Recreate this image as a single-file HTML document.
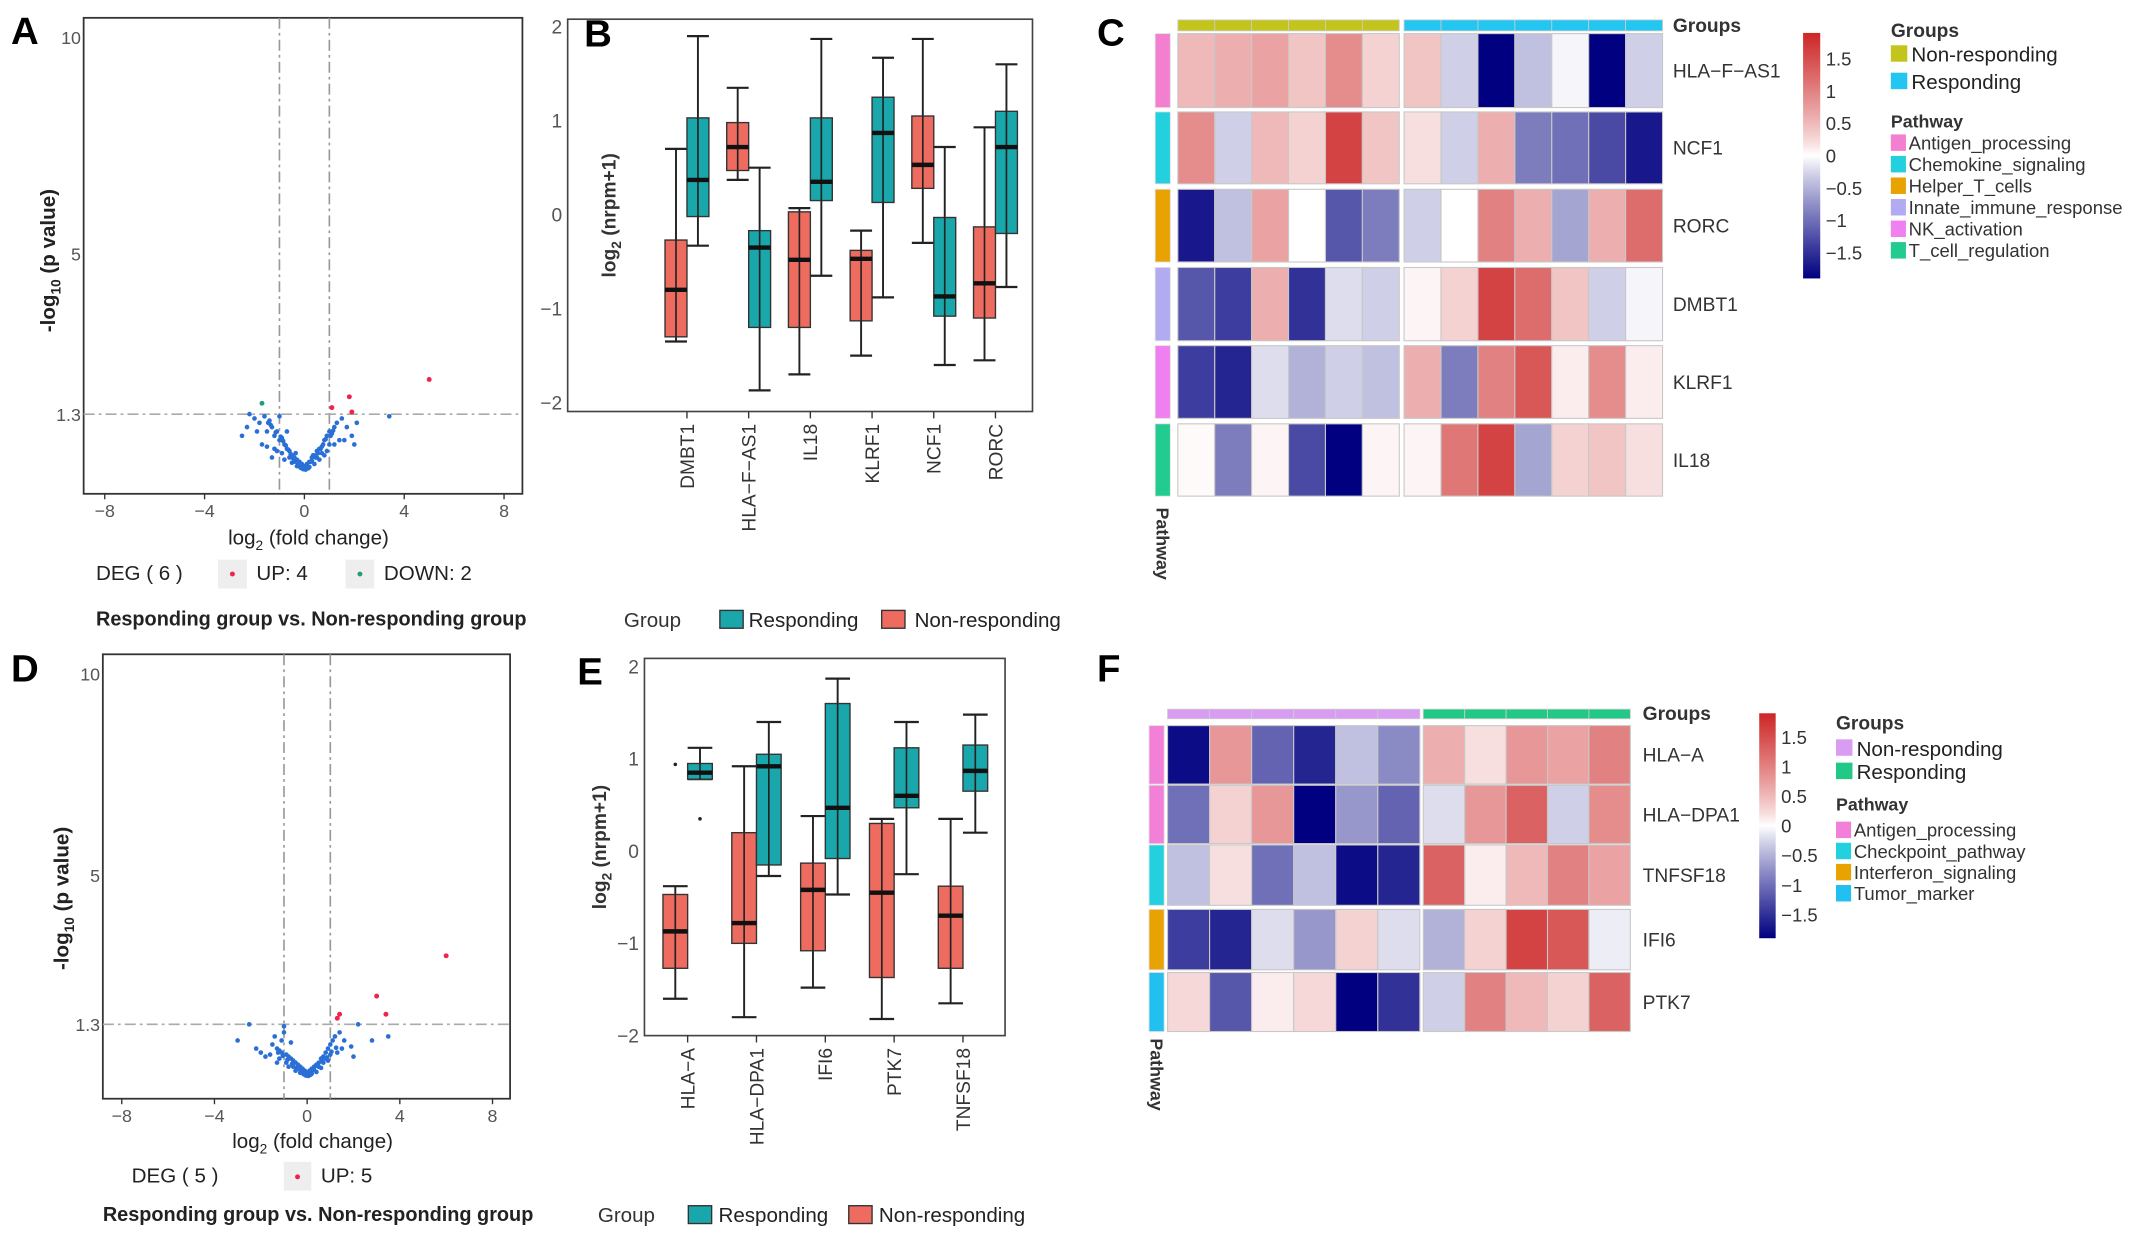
<!DOCTYPE html>
<html><head><meta charset="utf-8"><style>
html,body{margin:0;padding:0;background:#fff;}
svg{display:block;font-family:"Liberation Sans",sans-serif;}
</style></head><body>
<svg id="fig" width="2150" height="1240" viewBox="0 0 1568 904" preserveAspectRatio="none">
<rect x="0" y="0" width="1568" height="904" fill="#fff"/>
</svg>
<script>
// ---------- DATA ----------
const volcATicksX=[-8,-4,0,4,8];
const volcATicksY=[10,5,1.3];
const volcABlueX=[-2.5,-2.3,-2.0,-1.8,-1.6,-1.5,-1.4,-1.3,-1.2,-1.1,-1.0,-0.9,-0.8,-0.7,-0.6,-0.5,-0.4,-0.3,-0.2,-0.1,0,0.1,0.2,0.3,0.4,0.5,0.6,0.7,0.8,0.9,1.0,1.1,1.2,1.3,1.5,1.7,1.9,2.1,3.4,-1.7,-1.2,-0.9,-0.6,-0.4,-0.2,0.1,0.3,0.5,0.7,1.0,-1.3,-0.8,-0.5,-0.3,0.2,0.4,0.6,0.9,1.4,-2.2,-1.9,1.6,2.0,-1.0,-0.7,0.0,0.15,-0.15,0.05,-0.05,-1.5,-1.1,1.2,0.8,-0.35,0.35,-0.25,0.25,-0.45,0.45,-0.55,0.55,-0.65,0.65,-0.75,0.75,-0.85,0.85,-0.95,1.05,-1.15,1.15,-1.35,-1.45];
const volcABlueY=[0.8,1.0,1.2,1.1,1.25,0.9,1.15,1.0,0.8,0.9,0.7,0.75,0.6,0.5,0.45,0.35,0.3,0.25,0.2,0.15,0.1,0.15,0.2,0.3,0.35,0.45,0.5,0.55,0.7,0.8,0.9,0.85,1.0,1.1,1.2,1.0,0.8,1.1,1.25,0.6,0.5,0.4,0.3,0.2,0.12,0.12,0.22,0.3,0.4,0.6,0.3,0.25,0.18,0.1,0.08,0.15,0.25,0.45,0.7,1.3,0.9,0.7,0.6,1.25,0.9,0.05,0.05,0.06,0.02,0.03,0.55,0.45,0.6,0.35,0.4,0.35,0.15,0.2,0.28,0.3,0.38,0.4,0.48,0.5,0.58,0.6,0.68,0.72,0.78,0.8,0.88,0.92,1.05,1.1];
const volcARedX=[5.0,1.8,1.1,1.9];
const volcARedY=[2.1,1.7,1.45,1.35];
const volcAGreenX=[-1.7];
const volcAGreenY=[1.55];

const volcDTicksX=[-8,-4,0,4,8];
const volcDTicksY=[10,5,1.3];
const volcDBlueX=[-3.0,-2.5,-2.2,-2.0,-1.8,-1.5,-1.4,-1.3,-1.2,-1.1,-1.0,-0.9,-0.8,-0.7,-0.6,-0.5,-0.4,-0.3,-0.2,-0.1,0,0.1,0.2,0.3,0.4,0.5,0.6,0.7,0.8,0.9,1.0,1.1,1.2,1.4,1.6,1.9,2.2,2.8,3.5,-1.6,-1.2,-0.9,-0.6,-0.4,-0.2,0.1,0.3,0.5,0.7,1.0,-1.3,-0.8,-0.5,-0.3,0.2,0.4,0.6,0.9,1.3,-1.0,-0.7,0.0,0.15,-0.15,0.05,-0.05,2.0,1.5,-1.1,0.8,-0.25,0.25,-0.45,0.45,-0.65,0.65,-0.85,0.85,-1.05,1.05,-1.25,1.25];
const volcDBlueY=[0.9,1.3,0.7,0.6,0.5,0.8,1.0,0.7,0.65,0.6,1.1,0.55,0.5,0.45,0.4,0.35,0.3,0.25,0.2,0.15,0.1,0.15,0.2,0.25,0.3,0.35,0.45,0.5,0.6,0.7,0.8,0.9,1.0,1.1,0.9,0.75,1.3,0.9,1.0,0.55,0.45,0.35,0.25,0.2,0.1,0.1,0.18,0.25,0.35,0.55,0.35,0.25,0.15,0.1,0.08,0.12,0.22,0.4,0.6,1.25,0.85,0.05,0.05,0.06,0.02,0.03,0.5,0.7,0.9,0.45,0.14,0.17,0.22,0.27,0.32,0.38,0.42,0.48,0.52,0.62,0.6,0.72];
const volcDRedX=[6.0,3.0,1.3,1.4,3.4];
const volcDRedY=[3.0,2.0,1.45,1.55,1.55];

const boxBGenes=["DMBT1","HLA\u2212F\u2212AS1","IL18","KLRF1","NCF1","RORC"];
const boxBRed=[[-1.35,-1.3,-0.8,-0.27,0.7],[0.37,0.47,0.72,0.98,1.35],[-1.7,-1.2,-0.48,0.03,0.07],[-1.5,-1.13,-0.47,-0.38,-0.17],[-0.3,0.28,0.53,1.05,1.87],[-1.55,-1.1,-0.73,-0.13,0.93]];
const boxBTeal=[[-0.33,-0.02,0.37,1.03,1.9],[-1.87,-1.2,-0.35,-0.17,0.5],[-0.65,0.15,0.35,1.03,1.87],[-0.88,0.13,0.87,1.25,1.67],[-1.6,-1.08,-0.87,-0.03,0.72],[-0.77,-0.2,0.72,1.1,1.6]];
const boxBTicks=[2,1,0,-1,-2];

const boxEGenes=["HLA\u2212A","HLA\u2212DPA1","IFI6","PTK7","TNFSF18"];
const boxERed=[[-1.6,-1.27,-0.87,-0.47,-0.38],[-1.8,-1.0,-0.78,0.2,0.92],[-1.48,-1.08,-0.42,-0.13,0.38],[-1.82,-1.37,-0.45,0.3,0.35],[-1.65,-1.27,-0.7,-0.38,0.35]];
const boxETeal=[[0.78,0.78,0.85,0.95,1.12],[-0.27,-0.15,0.92,1.05,1.4],[-0.47,-0.08,0.47,1.6,1.87],[-0.25,0.47,0.6,1.12,1.4],[0.2,0.65,0.87,1.15,1.48]];
const boxEOutRed=[[0.94],[],[],[],[]];
const boxEOutTeal=[[0.35],[],[],[],[]];
const boxETicks=[2,1,0,-1,-2];

const heatCGenes=["HLA\u2212F\u2212AS1","NCF1","RORC","DMBT1","KLRF1","IL18"];
const heatCVals=[
[0.5,0.6,0.7,0.4,0.9,0.3,0.4,-0.3,-1.9,-0.4,-0.05,-1.9,-0.3],
[0.9,-0.3,0.5,0.3,1.6,0.4,0.2,-0.3,0.6,-0.9,-1.0,-1.3,-1.7],
[-1.7,-0.4,0.7,0,-1.2,-0.9,-0.3,0,1.0,0.6,-0.6,0.6,1.2],
[-1.2,-1.4,0.6,-1.5,-0.2,-0.3,0.05,0.3,1.6,1.2,0.4,-0.3,-0.05],
[-1.4,-1.6,-0.2,-0.5,-0.3,-0.4,0.6,-0.9,1.0,1.4,0.1,0.9,0.1],
[0.02,-0.9,0.05,-1.3,-1.9,0.05,0.05,1.1,1.6,-0.6,0.3,0.4,0.2]];
const heatCNonResp=6;
const heatCPathway=[0,1,2,3,4,5];
const heatCPathNames=["Antigen_processing","Chemokine_signaling","Helper_T_cells","Innate_immune_response","NK_activation","T_cell_regulation"];
const heatCPathColors=["#F27FD0","#22D0DE","#E8A202","#B3ABF2","#F07FF0","#22CC90"];
const heatCGroupNames=["Non-responding","Responding"];
const heatCGroupColors=["#C4C41E","#22C6F0"];

const heatFGenes=["HLA\u2212A","HLA\u2212DPA1","TNFSF18","IFI6","PTK7"];
const heatFVals=[
[-1.8,0.8,-1.1,-1.6,-0.4,-0.8,0.6,0.2,0.8,0.7,1.0],
[-1.0,0.3,0.8,-1.9,-0.7,-1.1,-0.2,0.8,1.3,-0.3,0.9],
[-0.4,0.2,-1.0,-0.4,-1.8,-1.6,1.3,0.1,0.5,1.0,0.7],
[-1.4,-1.6,-0.2,-0.7,0.3,-0.2,-0.5,0.3,1.6,1.4,-0.1],
[0.25,-1.2,0.1,0.25,-1.9,-1.5,-0.3,1.0,0.5,0.3,1.3]];
const heatFNonResp=6;
const heatFPathway=[0,0,1,2,3];
const heatFPathNames=["Antigen_processing","Checkpoint_pathway","Interferon_signaling","Tumor_marker"];
const heatFPathColors=["#F27FD8","#22D0DE","#E8A202","#22C0F0"];
const heatFGroupNames=["Non-responding","Responding"];
const heatFGroupColors=["#D89CF2","#22C886"];
const colorbarTicks=[1.5,1,0.5,0,-0.5,-1,-1.5];

// ---------- HELPERS ----------
const NS="http://www.w3.org/2000/svg";
const svg=document.getElementById('fig');
function mk(tag,attrs,parent){const e=document.createElementNS(NS,tag);for(const k in attrs)e.setAttribute(k,attrs[k]);(parent||svg).appendChild(e);return e;}
function txt(s,x,y,attrs,parent){const e=mk('text',Object.assign({x:x,y:y,'font-size':13,fill:'#222'},attrs||{}),parent);e.textContent=s;return e;}
function heatColor(v){const t=Math.max(-1,Math.min(1,v/1.9));let c;
 if(t>=0){const a=Math.pow(t,0.85);c=[255+(205-255)*a,255+(38-255)*a,255+(38-255)*a];}else{const a=Math.pow(-t,0.9);c=[255+(0-255)*a,255+(0-255)*a,255+(128-255)*a];}
 return 'rgb('+c.map(Math.round).join(',')+')';}

let e;

// ---------- VOLCANO ----------
function volcano(id,box,xs,ys,blueX,blueY,redX,redY,greenX,greenY,ticksX,ticksY){
 const x=v=>xs[0]+v*xs[1], y=v=>ys[0]-v*ys[1];
 const g=mk('g',{});
 
 
 e=mk('rect',{x:box[0],y:box[1],width:box[2]-box[0],height:box[3]-box[1],fill:'#fff',stroke:'#333','stroke-width':1.3},g);
 
 
 [-1,1].forEach(v=>{e=mk('line',{x1:x(v),x2:x(v),y1:box[1],y2:box[3],stroke:'#999','stroke-width':1.2,'stroke-dasharray':'8,3,2,3'},g);
  
  });
 e=mk('line',{x1:box[0],x2:box[2],y1:y(1.3),y2:y(1.3),stroke:'#aaa','stroke-width':1.2,'stroke-dasharray':'8,3,2,3'},g);
 
 
 blueX.forEach((v,i)=>{e=mk('circle',{cx:x(v),cy:y(blueY[i]),r:1.7,fill:'#2A6FD6'},g);
  
  });
 redX.forEach((v,i)=>{e=mk('circle',{cx:x(v),cy:y(redY[i]),r:1.8,fill:'#F0244A'},g);
  
  });
 greenX.forEach((v,i)=>{e=mk('circle',{cx:x(v),cy:y(greenY[i]),r:1.8,fill:'#1DA07A'},g);
  
  });
 ticksX.forEach(v=>{mk('line',{x1:x(v),x2:x(v),y1:box[3],y2:box[3]+4,stroke:'#333'},g);
  e=txt(String(v).replace('-','\u2212'),x(v),box[3]+17,{'text-anchor':'middle',fill:'#555','font-size':13},g);
  
  });
 ticksY.forEach(v=>{e=txt(String(v),box[0]-2,y(v)+5,{'text-anchor':'end',fill:'#555','font-size':13},g);
  
  });
}
volcano('a',[61,13,381,360],[222,18.2],[343,31.6],volcABlueX,volcABlueY,volcARedX,volcARedY,volcAGreenX,volcAGreenY,volcATicksX,volcATicksY);
volcano('d',[75,477,372,801],[224,16.9],[785,29.4],volcDBlueX,volcDBlueY,volcDRedX,volcDRedY,[],[],volcDTicksX,volcDTicksY);

function volcLabels(id,cx,by,ty,tx){
 e=txt('',cx,by,{'text-anchor':'middle','font-size':15,fill:'#222'});
 e.innerHTML='log<tspan font-size="10" dy="4">2</tspan><tspan dy="-4"> (fold change)</tspan>';
 
 
 e=txt('',0,0,{'text-anchor':'middle','font-size':15,'font-weight':'bold',fill:'#222',transform:'translate('+tx+','+ty+') rotate(-90)'});
 e.innerHTML='-log<tspan font-size="10" dy="4">10</tspan><tspan dy="-4"> (p value)</tspan>';
 
 
}
volcLabels('a',225,397,190,40);
volcLabels('d',228,837,655,50);

// A legend
e=txt('DEG ( 6 )',70,423,{'font-size':15});  
e=mk('rect',{x:159,y:408,width:21,height:21,fill:'#eee'});  
mk('circle',{cx:169.5,cy:418.5,r:1.8,fill:'#F0244A'});
e=txt('UP: 4',187,423,{'font-size':15});  
e=mk('rect',{x:252,y:408,width:21,height:21,fill:'#eee'});  
mk('circle',{cx:262.5,cy:418.5,r:1.8,fill:'#1DA07A'});
e=txt('DOWN: 2',280,423,{'font-size':15});  
e=txt('Responding group vs. Non-responding group',70,456,{'font-size':14.5,'font-weight':'bold'});  
// D legend
e=txt('DEG ( 5 )',96,862,{'font-size':15});  
e=mk('rect',{x:207,y:847,width:20,height:21,fill:'#eee'});  
mk('circle',{cx:217,cy:858,r:1.8,fill:'#F0244A'});
e=txt('UP: 5',234,862,{'font-size':15});  
e=txt('Responding group vs. Non-responding group',75,890,{'font-size':14.5,'font-weight':'bold'});  

// ---------- BOXPLOTS ----------
function boxplot(id,box,y0,yu,cx0,dx,bw,genes,red,teal,outR,outT,ticks,titleX){
 const y=v=>y0-v*yu;
 const g=mk('g',{});
 
 
 e=mk('rect',{x:box[0],y:box[1],width:box[2]-box[0],height:box[3]-box[1],fill:'#fff',stroke:'#444','stroke-width':1.2},g);
 
 
 ticks.forEach(v=>{e=txt(String(v).replace('-','\u2212'),box[0]-4,y(v)+5,{'text-anchor':'end',fill:'#555','font-size':14},g);
  
  });
 function drawBox(s,cx,fill,name){
  const gg=mk('g',{},g);
  
  
  mk('line',{x1:cx,x2:cx,y1:y(s[0]),y2:y(s[4]),stroke:'#222','stroke-width':1.4},gg);
  mk('line',{x1:cx-bw/2,x2:cx+bw/2,y1:y(s[0]),y2:y(s[0]),stroke:'#222','stroke-width':1.6},gg);
  mk('line',{x1:cx-bw/2,x2:cx+bw/2,y1:y(s[4]),y2:y(s[4]),stroke:'#222','stroke-width':1.6},gg);
  mk('rect',{x:cx-bw/2,y:y(s[3]),width:bw,height:y(s[1])-y(s[3]),fill:fill,stroke:'#333','stroke-width':1},gg);
  mk('line',{x1:cx,x2:cx,y1:y(s[3]),y2:y(s[1]),stroke:'#222','stroke-width':1.2},gg);
  mk('line',{x1:cx-bw/2,x2:cx+bw/2,y1:y(s[2]),y2:y(s[2]),stroke:'#111','stroke-width':3.2},gg);
 }
 genes.forEach((gn,i)=>{
  const cx=cx0+i*dx;
  drawBox(red[i],cx-bw/2,'#EE6B5F','box-nonresponding-'+i);
  drawBox(teal[i],cx+bw/2,'#19A7AB','box-responding-'+i);
  (outR[i]||[]).forEach(v=>{e=mk('circle',{cx:cx-bw/2,cy:y(v),r:1.3,fill:'#222'},g);});
  (outT[i]||[]).forEach(v=>{e=mk('circle',{cx:cx+bw/2,cy:y(v),r:1.3,fill:'#222'},g);});
  mk('line',{x1:cx,x2:cx,y1:box[3],y2:box[3]+5,stroke:'#333'},g);
  e=txt(gn,0,0,{'text-anchor':'end','font-size':14,fill:'#333',transform:'translate('+(cx+5)+','+(box[3]+9)+') rotate(-90)'},g);
  
  
 });
 e=txt('',0,0,{'text-anchor':'middle','font-size':14,'font-weight':'bold',fill:'#333',transform:'translate('+titleX+','+((box[1]+box[3])/2)+') rotate(-90)'},g);
 e.innerHTML='log<tspan font-size="10" dy="4">2</tspan><tspan dy="-4"> (nrpm+1)</tspan>';
 
 
}
boxplot('b',[414,14,753,300],156.5,68.5,501,45,16,boxBGenes,boxBRed,boxBTeal,[],[],boxBTicks,449);
boxplot('e',[470,480,733,755],620.5,67.25,501.5,50.2,18,boxEGenes,boxERed,boxETeal,boxEOutRed,boxEOutTeal,boxETicks,442);

function groupLegend(id,x,y,tk,tl,rk,rl){
 e=txt('Group',x,y,{'font-size':15,fill:'#333'});  
 e=mk('rect',{x:tk,y:y-12,width:17,height:13,fill:'#19A7AB',stroke:'#333'});  
 e=txt('Responding',tl,y,{'font-size':15});  
 e=mk('rect',{x:rk,y:y-12,width:17,height:13,fill:'#EE6B5F',stroke:'#333'});  
 e=txt('Non-responding',rl,y,{'font-size':15});  
}
groupLegend('b',455,457,525,546,643,667);
groupLegend('e',436,891,502,524,619,641);

// ---------- HEATMAPS ----------
function heatmap(id,x0,x1,split,gap,gBar,rowsY,vals,nonResp,pathIdx,pathColors,pathX,genes,labX,groupColors,groupNames,pathNames,cb,legX,legY,pathLabY){
 const g=mk('g',{});
 
 
 const nCols=vals[0].length, nR=nCols-nonResp;
 const wL=(split-x0)/nonResp, wR=(x1-split-gap)/nR;
 const colX=j=>j<nonResp?x0+j*wL:split+gap+(j-nonResp)*wR;
 const colW=j=>j<nonResp?wL:wR;
 vals.forEach((row,i)=>{
  const ry=rowsY[i];
  row.forEach((v,j)=>{
   e=mk('rect',{x:colX(j),y:ry[0],width:colW(j),height:ry[1]-ry[0],fill:heatColor(v),stroke:'#c8c8c8','stroke-width':0.8},g);
   
   
  });
  e=mk('rect',{x:pathX,y:ry[0],width:11,height:ry[1]-ry[0],fill:pathColors[pathIdx[i]],stroke:'#ddd','stroke-width':0.6},g);
  
  
  e=txt(genes[i],labX,(ry[0]+ry[1])/2+5,{'font-size':14,fill:'#333'},g);
  
  
 });
 for(let j=0;j<nCols;j++){
  e=mk('rect',{x:colX(j),y:gBar[0],width:colW(j),height:gBar[1]-gBar[0],fill:groupColors[j<nonResp?0:1],stroke:'#ccc','stroke-width':0.6},g);
  
  
 }
 e=txt('Groups',labX,gBar[1]+1,{'font-size':14,'font-weight':'bold',fill:'#333'},g);
 
 
 e=txt('Pathway',0,0,{'font-size':13,'font-weight':'bold',fill:'#333',transform:'translate('+(pathX+1)+','+pathLabY+') rotate(90)'},g);
 
 
 const gid='grad-'+id;
 const defs=mk('defs',{},g);
 const lg=mk('linearGradient',{id:gid,x1:0,y1:0,x2:0,y2:1},defs);
 for(let k=0;k<=20;k++){const v=1.9-k*3.8/20;mk('stop',{offset:(k/20),'stop-color':heatColor(v)},lg);}
 e=mk('rect',{x:cb[0],y:cb[1],width:cb[2],height:cb[3]-cb[1],fill:'url(#'+gid+')'},g);
 
 
 const cy=v=>cb[1]+(1.9-v)/3.8*(cb[3]-cb[1]);
 colorbarTicks.forEach(v=>{e=txt(String(v).replace('-','\u2212'),cb[0]+cb[2]+4,cy(v)+5,{'font-size':13.5,fill:'#333'},g);
  
  });
 e=txt('Groups',legX,legY[0],{'font-size':14,'font-weight':'bold',fill:'#333'},g);
 
 
 groupNames.forEach((n,k)=>{
  e=mk('rect',{x:legX,y:legY[1+k]-11,width:12,height:12,fill:groupColors[k]},g);
  
  
  e=txt(n,legX+15,legY[1+k]+1,{'font-size':15,fill:'#222'},g);
  
  
 });
 e=txt('Pathway',legX,legY[3],{'font-size':13,'font-weight':'bold',fill:'#333'},g);
 
 
 pathNames.forEach((n,k)=>{
  const yy=legY[4]+k*legY[5];
  e=mk('rect',{x:legX,y:yy-10,width:11,height:12,fill:pathColors[k]},g);
  
  
  e=txt(n,legX+13,yy+1,{'font-size':13.5,fill:'#333'},g);
  
  
 });
}
heatmap('c',859,1212.5,1020.5,3.5,[14.5,22.5],
 [[24.5,78.4],[81.6,134],[138,191],[195,248.4],[252,305],[309,361.7]],
 heatCVals,heatCNonResp,heatCPathway,heatCPathColors,842.5,heatCGenes,1220,heatCGroupColors,heatCGroupNames,heatCPathNames,
 [1315,24,12.5,203],1379,[27,44,64,93,108,15.7],370);
heatmap('f',851.5,1189,1035.5,2.5,[517,524],
 [[529,571.6],[572.5,615],[616,660],[663,707],[709,752]],
 heatFVals,heatFNonResp,heatFPathway,heatFPathColors,838,heatFGenes,1198,heatFGroupColors,heatFGroupNames,heatFPathNames,
 [1283,520,12,684],1339,[532,550,567,591,609,15.4],757);

// panel letters drawn last (on top)
[['A',8,32],['B',426,34],['C',800,33],['D',8,497],['E',421,499],['F',800,497]].forEach(p=>{
 e=txt(p[0],p[1],p[2],{'font-size':28,'font-weight':'bold',fill:'#000'});
 
 
});
</script>
</body></html>
